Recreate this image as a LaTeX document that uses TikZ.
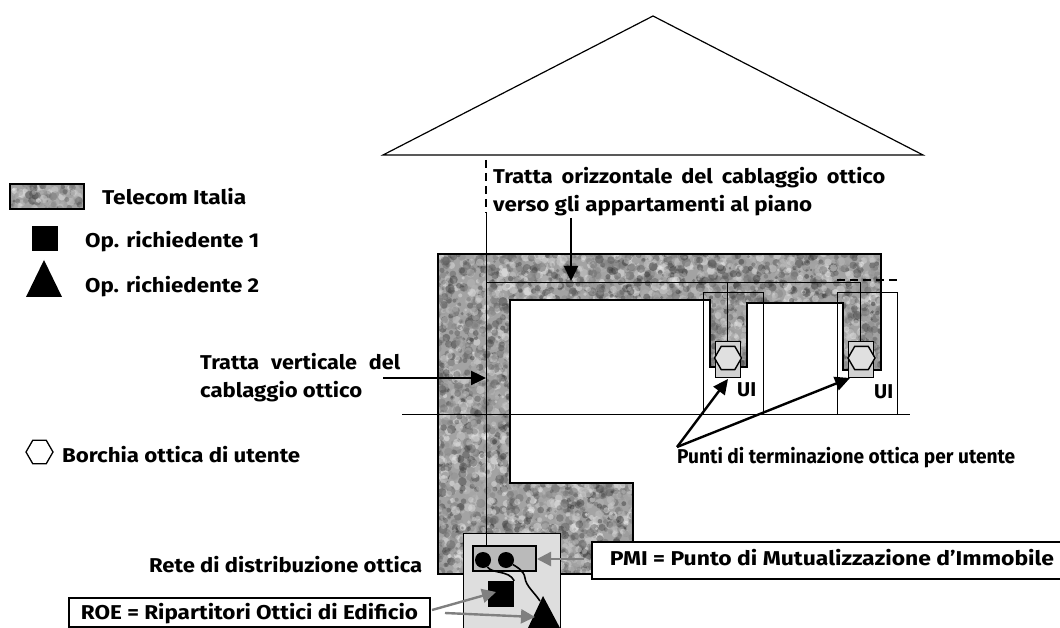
\documentclass[tikz,border=0pt]{standalone}
\usepackage{fontspec}
\usepackage{graphicx}
\setmainfont{Fira Sans}
\usetikzlibrary{arrows.meta,shapes.geometric}
\tikzset{
  lbl/.style={anchor=base west,inner sep=0pt,font=\fontsize{20}{24}\selectfont\bfseries},
  thin line/.style={draw=black,line width=0.9pt},
  outline/.style={draw=black,line width=2.2pt,line join=miter},
  blk/.style={-{Triangle[length=15pt,width=14pt]},line width=2.4pt,black},
  gar/.style={-{Triangle[length=14pt,width=14pt]},line width=2.4pt,draw=black!50,color=black!50},
  hexa/.style={regular polygon,regular polygon sides=6,draw=black,line width=1.4pt,inner sep=0pt,minimum size=27pt,fill=black!12},
  callout/.style={draw=black,line width=1.4pt,fill=white,inner sep=0pt,font=\fontsize{20}{24}\selectfont\bfseries},
}
\newcommand{\fitw}[2]{\resizebox{#1pt}{\height}{#2}}
\newcommand{\noiseblobs}[5]{% x0 y0 w h count
  \foreach \i in {1,...,#5}{
    \pgfmathsetmacro{\nx}{#1+rnd*#3}
    \pgfmathsetmacro{\ny}{#2+rnd*#4}
    \pgfmathsetmacro{\nr}{1.3+rnd*3.4}
    \pgfmathsetmacro{\ng}{0.15+0.85*rnd}
    \definecolor{nc}{gray}{\ng}
    \fill[nc,fill opacity=0.42] (\nx,\ny) circle[radius=\nr];
  }
}
\begin{document}
\begin{tikzpicture}[x=1pt,y=-1pt]
\useasboundingbox (0,0) rectangle (1060,628);
\pgfmathsetseed{4217}
% house
\draw[thin line,line width=1.2pt,line join=miter] (383,155) -- (653,16) -- (923,155) -- cycle;
% textured riser
\def\shapepath{(438,254) -- (881,254) -- (881,370) -- (843,370) -- (843,303) -- (747,303) -- (747,367) -- (710,367) -- (710,300) -- (510,300) -- (510,483) -- (633,483) -- (633,574) -- (438,574) -- cycle}
\begin{scope}
  \clip \shapepath;
  \fill[black!36] (430,250) rectangle (890,580);
  \noiseblobs{436}{252}{76}{324}{1500}
  \noiseblobs{510}{252}{373}{52}{1200}
  \noiseblobs{708}{300}{41}{69}{170}
  \noiseblobs{841}{300}{42}{72}{190}
  \noiseblobs{510}{481}{125}{95}{800}
\end{scope}
\draw[outline] \shapepath;
% legend
\begin{scope}
  \clip (10,184) rectangle (84,209);
  \fill[black!36] (10,184) rectangle (84,209);
  \noiseblobs{10}{184}{74}{25}{120}
\end{scope}
\node[draw=black,line width=1.6pt,minimum width=74pt,minimum height=25pt,inner sep=0pt] (legtex) at (47,196.5) {};
\node[lbl] (lt) at (102,205) {\fitw{144}{Telecom Italia}};
\node[fill=black,minimum size=25.5pt,inner sep=0pt] (legsq) at (45,238.5) {};
\node[lbl] (l1) at (85,248) {\fitw{174}{Op. richiedente 1}};
\fill[black,line join=round] (44,260) -- (62,297) -- (26,297) -- cycle;
\node[lbl] (l2) at (85,292) {\fitw{174}{Op. richiedente 2}};
\node[regular polygon,regular polygon sides=6,draw=black,line width=1.3pt,inner sep=0pt,minimum size=27pt] (leghex) at (39.5,452) {};
\node[lbl] (lb) at (62,462) {\fitw{238}{Borchia ottica di utente}};
% rooms
\draw[thin line] (402,414) -- (910,414);
\node[draw=black,line width=0.9pt,minimum width=60pt,minimum height=122pt,inner sep=0pt] (room1) at (733,353) {};
\node[draw=black,line width=0.9pt,minimum width=60pt,minimum height=122pt,inner sep=0pt] (room2) at (867,353) {};
\node[draw=black,line width=0.9pt,fill=black!18,minimum width=25pt,minimum height=36pt,inner sep=0pt] (ui1) at (727.5,359) {};
\node[draw=black,line width=0.9pt,fill=black!18,minimum width=25pt,minimum height=36pt,inner sep=0pt] (ui2) at (861,359) {};
\node[hexa] (h1) at (728,358) {};
\node[hexa] (h2) at (861.5,358) {};
\node[lbl] (u1) at (737,396) {\fitw{19}{UI}};
\node[lbl] (u2) at (874,398) {\fitw{19}{UI}};
% cables
\coordinate (vtop) at (486,160);
\coordinate (vdash) at (486,213);
\coordinate (corner) at (486,282);
\coordinate (j1) at (727,282);
\coordinate (j2) at (860,282);
\coordinate (d1) at (837,280);
\coordinate (d2) at (899,280);
% ROE box
\node[draw=black,line width=1.2pt,fill=black!13,anchor=north west,minimum width=97pt,minimum height=95pt,inner sep=0pt] (roebox) at (463,533) {};
\node[draw=black,line width=1.4pt,fill=black!27,minimum width=63pt,minimum height=25pt,inner sep=0pt] (pmi) at (504.5,558.5) {};
\draw[thin line,dash pattern=on 8pt off 5pt,line width=1.2pt] (vtop) -- (vdash);
\draw[thin line] (vdash) -- (pmi.north -| vtop);
\draw[thin line] (corner) -- (j2);
\draw[thin line] (j1) -- (ui1.north -| j1);
\draw[thin line] (j2) -- (ui2.north -| j2);
\draw[thin line,dash pattern=on 8pt off 5pt,line width=1.2pt] (d1) -- (d2);
% contents
\node[circle,fill=black,minimum size=16pt,inner sep=0pt] (dot1) at (483,560) {};
\node[circle,fill=black,minimum size=16pt,inner sep=0pt] (dot2) at (506,560) {};
\node[fill=black,minimum size=26pt,inner sep=0pt] (op1) at (501,594) {};
\fill[black] (543,596) -- (560,628) -- (528,628) -- cycle;
\coordinate (op2) at (540,601);
\draw[line width=1.6pt] (dot1) .. controls (492,574) and (509,570) .. (op1.north east);
\draw[line width=1.6pt] (dot2) .. controls (515,566) and (524,570) .. (525,578) .. controls (526,586) and (534,592) .. (op2);
% labels
\node[lbl] (to1) at (493,184) {\fitw{392}{\makebox[360pt][s]{Tratta orizzontale del cablaggio ottico}}};
\node[lbl] (to2) at (493,212) {\fitw{319}{verso gli appartamenti al piano}};
\node[lbl] (tv1) at (200,369) {\fitw{200}{\makebox[185pt][s]{Tratta verticale del}}};
\node[lbl] (tv2) at (200,397) {\fitw{162}{cablaggio ottico}};
\node[lbl] (pt) at (677,463) {\fitw{338}{Punti di terminazione ottica per utente}};
\node[lbl] (rd) at (149,572) {\fitw{273}{Rete di distribuzione ottica}};
\node[callout,minimum width=480pt,minimum height=37pt,text height=14pt,text depth=5pt] (pmil) at (832,560.5) {\fitw{444}{PMI = Punto di Mutualizzazione d’Immobile}};
\node[callout,minimum width=361pt,minimum height=29pt,text height=14pt,text depth=1pt] (roel) at (249.5,612.5) {\fitw{337}{ROE = Ripartitori Ottici di Edificio}};
% arrows
\coordinate (a1s) at (571,218); \coordinate (a1e) at (571,281);
\draw[blk] (a1s) -- (a1e);
\coordinate (a2s) at (383,378); \coordinate (a2e) at (486,378);
\draw[blk] (a2s) -- (a2e);
\coordinate (a3s) at (677,447); \coordinate (a3e) at (728,379); \coordinate (a4e) at (850,378);
\draw[blk] (a3s) -- (a3e);
\draw[blk] (a3s) -- (a4e);
\coordinate (g1s) at (584,559); \coordinate (g1e) at (537,559);
\draw[gar] (g1s) -- (g1e);
\coordinate (g2s) at (432,610); \coordinate (g2e) at (496,592);
\draw[gar] (g2s) -- (g2e);
\coordinate (g3s) at (445,613); \coordinate (g3e) at (535,617);
\draw[gar] (g3s) -- (g3e);
\end{tikzpicture}
\end{document}
